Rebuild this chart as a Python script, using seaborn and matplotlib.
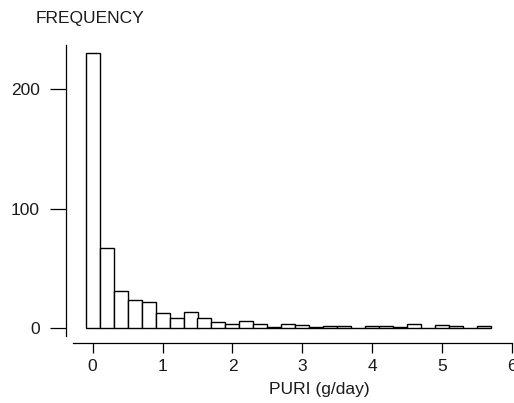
import numpy as np
import pandas as pd
import matplotlib
matplotlib.use("Agg")
import matplotlib.pyplot as plt
import seaborn as sns

# Data (bin width 0.2 g/day, centred on 0, 0.2, ...)
bin_centers = [round(0.2 * i, 1) for i in range(29)]
counts = [230, 67, 31, 24, 22, 13, 9, 14, 9, 5, 4, 6, 4, 1, 4, 3, 1, 2, 2, 0,
          2, 2, 1, 4, 0, 3, 2, 0, 2]
x_ticks = [0, 1, 2, 3, 4, 5, 6]
y_ticks = [0, 100, 200]

df = pd.DataFrame({"puri": bin_centers, "n": counts})

sns.set_style("ticks")
plt.rcParams['font.family'] = ['Liberation Sans', 'DejaVu Sans']

W, H = 514, 403
fig = plt.figure(figsize=(W / 100, H / 100), dpi=100)
left, right, bottom, top = 71.7, 512.0, 343.0, 45.0
ax = fig.add_axes([left / W, (H - bottom) / H, (right - left) / W, (bottom - top) / H])

sns.histplot(data=df, x="puri", weights="n", binwidth=0.2, binrange=(-0.1, 5.7),
             color="white", edgecolor="black", linewidth=1.0, alpha=1, ax=ax)

ax.set_xlim(-0.3, 6.0)
ax.set_ylim(-12.3, 236.8)
ax.set_xticks(x_ticks)
ax.set_yticks(y_ticks)
ax.tick_params(axis="x", length=7.2, width=0.9, pad=4, labelsize=12.5,
               colors="black", labelcolor="#1a1a1a")
ax.tick_params(axis="y", length=11.5, width=0.9, pad=7.5, labelsize=12.5,
               colors="black", labelcolor="#1a1a1a")

for s in ["top", "right"]:
    ax.spines[s].set_visible(False)
ax.spines["left"].set_position(("outward", 4.1))
ax.spines["left"].set_bounds(-6.4, 236.7)
ax.spines["bottom"].set_bounds(-0.28, 6.0)
for s in ["left", "bottom"]:
    ax.spines[s].set_linewidth(0.9)
    ax.spines[s].set_color("black")

ax.set_ylabel("")
ax.set_xlabel("PURI (g/day)", fontsize=12.5, color="#1a1a1a")
ax.xaxis.set_label_coords(0.562, -0.13)

fig.text(36 / W, 1 - 10.5 / H, "FREQUENCY", fontsize=12.5, ha="left", va="top",
         color="#1a1a1a")

fig.savefig("out.png", dpi=100)
